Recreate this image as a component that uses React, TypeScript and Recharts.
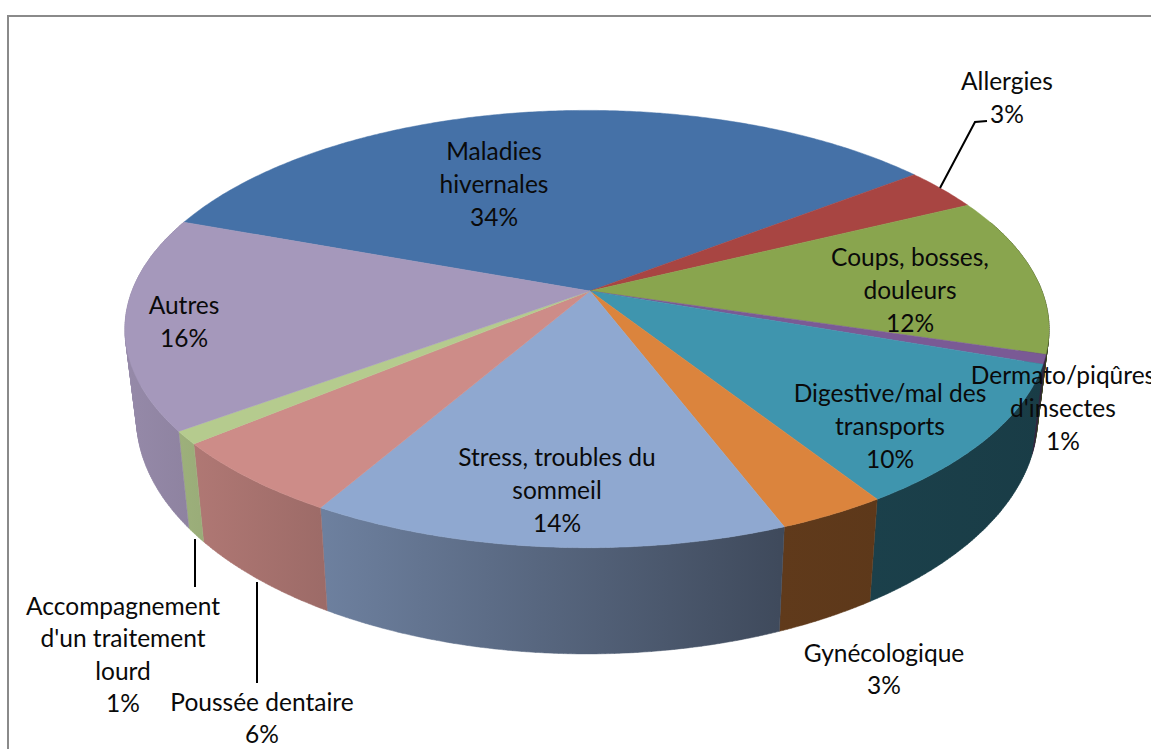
import { PieChart, Pie, Cell } from 'recharts'

const categories = [
  'Maladies hivernales',
  'Allergies',
  'Coups, bosses, douleurs',
  'Dermato/piqûres d\'insectes',
  'Digestive/mal des transports',
  'Gynécologique',
  'Stress, troubles du sommeil',
  'Poussée dentaire',
  'Accompagnement d\'un traitement lourd',
  'Autres',
]
const values = [34.05, 3.2, 11.75, 0.7, 10.55, 3.25, 14.2, 5.65, 0.95, 15.7]
const percentLabels = ['34%', '3%', '12%', '1%', '10%', '3%', '14%', '6%', '1%', '16%']
const labelLines = [
  ['Maladies', 'hivernales'],
  ['Allergies'],
  ['Coups, bosses,', 'douleurs'],
  ['Dermato/piqûres', "d'insectes"],
  ['Digestive/mal des', 'transports'],
  ['Gynécologique'],
  ['Stress, troubles du', 'sommeil'],
  ['Poussée dentaire'],
  ['Accompagnement', "d'un traitement", 'lourd'],
  ['Autres'],
]
const colors = ['#4571a7', '#a84542', '#89a54e', '#7a5a95', '#3f95ae', '#db843d', '#8fa8d0', '#cd8c88', '#b5cb8e', '#a598bb']

const chartData = categories.map((name, i) => ({ name, value: values[i] }))

// label layout: x centre, y of first line centre, line height
const labelPos = [
  [494, 150, 33],
  [1007, 80, 33],
  [910, 256, 33],
  [1063, 374, 33],
  [890, 392, 33],
  [884, 652, 32],
  [557, 456, 33],
  [262, 701, 32],
  [123, 605, 32.5],
  [184, 304, 33],
]
// leader lines, by slice index
const leaders: Record<number, string> = {
  1: '940,188 975,122 987,121',
  7: '257,582 257,683',
  8: '195,539 195,587',
}

// perspective of the disc
const K = 0.174
const RATIO = 0.466
const RIM_SHIFT = -3
const WALL_CX = 587
const WALL_X = 0.975
const WALL_Y = 1.08

function rim(cx: number, cy: number, r: number, deg: number) {
  const a = (deg * Math.PI) / 180
  const u = Math.cos(a)
  const v = Math.sin(a)
  const w = 1 + K * v
  return [cx + RIM_SHIFT + (r * u) / w, cy - (r * RATIO * v) / w]
}

function lower(p: number[]) {
  return [WALL_CX + WALL_X * (p[0] - WALL_CX), 543 + WALL_Y * (p[1] - 445)]
}

function arc(cx: number, cy: number, r: number, from: number, to: number) {
  const pts: number[][] = []
  const n = Math.max(2, Math.ceil(Math.abs(from - to) * 2))
  for (let i = 0; i <= n; i++) {
    pts.push(rim(cx, cy, r, from + ((to - from) * i) / n))
  }
  return pts
}

const toPath = (pts: number[][]) => pts.map((p) => `${p[0].toFixed(1)},${p[1].toFixed(1)}`).join(' ')

function TopSlice(props: any) {
  const { cx, cy, outerRadius, startAngle, endAngle, index } = props
  const pts = [[cx, cy], ...arc(cx, cy, outerRadius, startAngle, endAngle)]
  return <polygon points={toPath(pts)} fill={colors[index]} stroke={colors[index]} strokeWidth={0.5} />
}

function shade(hex: string, f: number) {
  const n = parseInt(hex.slice(1), 16)
  const c = [(n >> 16) & 255, (n >> 8) & 255, n & 255].map((x) => Math.round(x * f))
  return `rgb(${c[0]},${c[1]},${c[2]})`
}

// all quads wound the same way so that one path fills as a union, with no seams
function quadPath(q: number[][]) {
  let area = 0
  q.forEach((p, i) => {
    const n = q[(i + 1) % q.length]
    area += p[0] * n[1] - n[0] * p[1]
  })
  const pts = area < 0 ? [...q].reverse() : q
  return `M${toPath(pts).replace(/ /g, 'L')}Z`
}

function WallSlice(props: any) {
  const { cx, cy, outerRadius, startAngle, endAngle, index } = props
  const from = Math.min(startAngle, 20)
  const to = Math.max(endAngle, -200.1)
  if (from <= to) return <g />
  const top = arc(cx, cy, outerRadius, from, to)
  const id = `wall-${index}`
  const d = top
    .slice(1)
    .map((p, i) => quadPath([top[i], p, lower(p), lower(top[i])]))
    .join('')
  return (
    <g>
      <defs>
        <linearGradient id={id} gradientUnits="userSpaceOnUse" x1={130} y1={0} x2={1050} y2={0}>
          <stop offset="0%" stopColor={shade(colors[index], 0.9)} />
          <stop offset="70.6%" stopColor={shade(colors[index], 0.44)} />
          <stop offset="100%" stopColor={shade(colors[index], 0.4)} />
        </linearGradient>
      </defs>
      <path d={d} fill={`url(#${id})`} stroke={`url(#${id})`} strokeWidth={0.5} />
    </g>
  )
}

function SliceLabel(props: any) {
  const { index } = props
  const [x, y, lh] = labelPos[index]
  const lines = [...labelLines[index], percentLabels[index]]
  return (
    <g>
      {leaders[index] && <polyline points={leaders[index]} fill="none" stroke="#000" strokeWidth={2} />}
      <text x={x} y={y} textAnchor="middle" fontFamily="Lato, 'Open Sans', sans-serif" fontSize={24.5} fill="#0a0a0a">
        {lines.map((line, i) => (
          <tspan key={i} x={x} y={y + i * lh} dominantBaseline="central">
            {line}
          </tspan>
        ))}
      </text>
    </g>
  )
}

export default function App() {
  return (
    <div style={{ position: 'absolute', left: 0, top: 0, width: 1151, height: 749, overflow: 'hidden', background: '#fff' }}>
      <div
        style={{
          position: 'absolute',
          left: 7,
          top: 15,
          width: 1300,
          height: 900,
          borderLeft: '2px solid #8a8a8a',
          borderTop: '2px solid #8a8a8a',
        }}
      />
      <div style={{ position: 'absolute', left: 0, top: 0 }}>
        <PieChart width={1151} height={749} margin={{ top: 0, right: 0, bottom: 0, left: 0 }}>
          <Pie
            data={chartData}
            dataKey="value"
            cx={590}
            cy={291}
            innerRadius={0}
            outerRadius={455}
            startAngle={159.9}
            endAngle={-200.1}
            stroke="none"
            shape={WallSlice}
            isAnimationActive={false}
          />
          <Pie
            data={chartData}
            dataKey="value"
            cx={590}
            cy={291}
            innerRadius={0}
            outerRadius={455}
            startAngle={159.9}
            endAngle={-200.1}
            stroke="none"
            shape={TopSlice}
            label={SliceLabel}
            labelLine={false}
            isAnimationActive={false}
          >
            {categories.map((c, i) => (
              <Cell key={c} fill={colors[i]} />
            ))}
          </Pie>
        </PieChart>
      </div>
    </div>
  )
}
